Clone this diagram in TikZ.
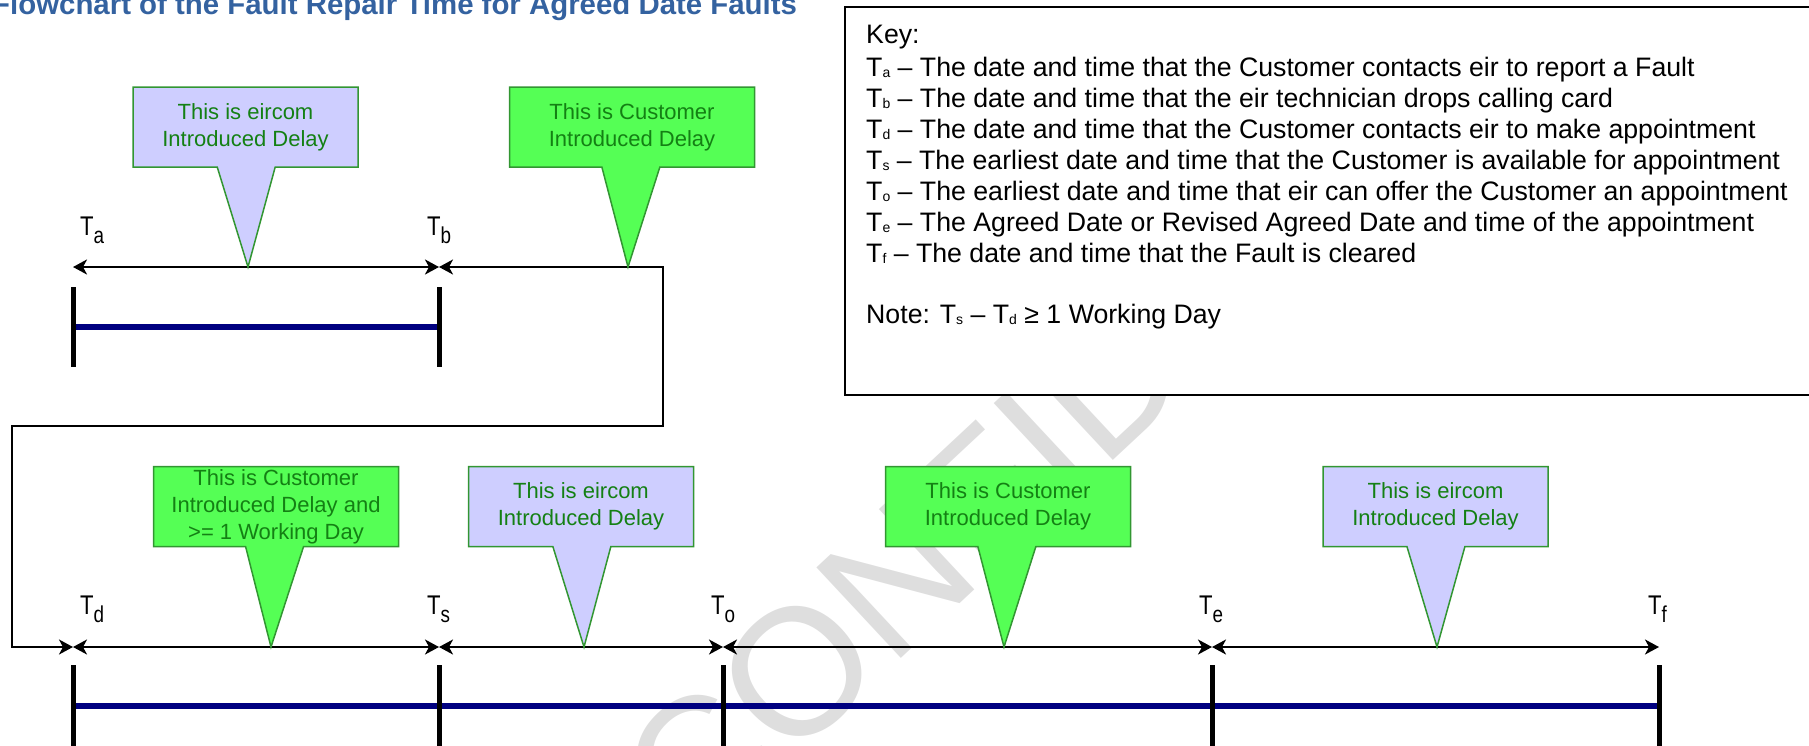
\documentclass[tikz,border=0pt]{standalone}
\usepackage{fontspec}
\setmainfont{Liberation Sans}
\newfontfamily\narrowfont{Liberation Sans}[FakeStretch=0.82]
\usepackage{tikz}
\usetikzlibrary{arrows.meta,shapes.callouts}
\definecolor{titleblue}{RGB}{52,98,160}
\definecolor{custgreen}{RGB}{85,255,85}
\definecolor{eirblue}{RGB}{206,206,255}
\definecolor{textgreen}{RGB}{20,128,20}
\definecolor{edgegreen}{RGB}{50,150,50}
\definecolor{barblue}{RGB}{0,0,128}
\newcommand{\tlab}[1]   {{\narrowfont T\raisebox{-8pt}{\fontsize{23}{23}\selectfont #1}}}
\newcommand{\ksub}[1]   {{\fontsize{14}{14}\selectfont\raisebox{-1pt}{#1}}}

\begin{document}
\begin{tikzpicture}[x=1pt,y=-1pt,
    tick/.style={line width=5pt},
    bar/.style={line width=6pt,barblue},
    span/.style={line width=2pt,
      {Stealth[length=14pt,width=15pt,inset=4pt]}-{Stealth[length=14pt,width=15pt,inset=4pt]}},
    delay/.style={rectangle callout,draw=edgegreen,line width=1.5pt,text=textgreen,
      align=center,inner sep=0pt,minimum height=80pt,callout pointer width=58pt,
      font=\fontsize{22}{27}\selectfont},
    eircom/.style={delay,fill=eirblue,minimum width=225pt},
    customer/.style={delay,fill=custgreen,minimum width=245pt},
    tname/.style={anchor=base west,inner sep=0pt,font=\fontsize{27}{27}\selectfont},
    keyline/.style={anchor=base west,inner sep=0pt,font=\fontsize{26.7}{26.7}\selectfont}]
  \useasboundingbox (0,0) rectangle (1809,745);
  % watermark
  \begin{scope}
    \clip (0,7) rectangle (1809,745);
    \node[rotate=43,anchor=base west,inner sep=0pt,text=black!13,
      font=\fontsize{180}{180}\selectfont] (mark) at (693,853) {CONFIDENTIAL};
  \end{scope}
  % title
  \node[anchor=base west,inner sep=0pt,text=titleblue,
    font=\bfseries\fontsize{29.4}{29.4}\selectfont] (title) at (-8,14)
    {Flowchart of the Fault Repair Time for Agreed Date Faults};
  % key
  \draw[line width=2pt,fill=white] (845,7) rectangle (1820,395);
  \node[keyline] (keyhead) at (866,43) {Key:};
  \foreach \s/\t [count=\i] in {
      a/The date and time that the Customer contacts eir to report a Fault,
      b/The date and time that the eir technician drops calling card,
      d/The date and time that the Customer contacts eir to make appointment,
      s/The earliest date and time that the Customer is available for appointment,
      o/The earliest date and time that eir can offer the Customer an appointment,
      e/The Agreed Date or Revised Agreed Date and time of the appointment,
      f/The date and time that the Fault is cleared}
    \node[keyline] (key\i) at (866,45+31*\i) {T\ksub{\s} – \t};
  \node[keyline] (note) at (866,323) {Note: T\ksub{s} – T\ksub{d} ≥ 1 Working Day};
  % time points
  \coordinate (ta) at (73,267);
  \coordinate (tb) at (439,267);
  \coordinate (td) at (73,647);
  \coordinate (ts) at (439,647);
  \coordinate (to) at (723,647);
  \coordinate (te) at (1212,647);
  \coordinate (tf) at (1659,647);
  \coordinate (loopr) at (663,426);
  \coordinate (loopl) at (12,426);
  % bars and ticks
  \draw[bar] (73,327) -- (439,327);
  \draw[bar] (73,706) -- (1659,706);
  \foreach \x in {73,439}
    \draw[tick] (\x,287) -- (\x,367);
  \foreach \x in {73,439,723,1212,1659}
    \draw[tick] (\x,665) -- (\x,750);
  % spans
  \draw[span,line width=2.6pt] (ta) -- (tb);
  \draw[span] (tb) -| (loopr) -- (loopl) |- (td);
  \draw[span] (td) -- (ts);
  \draw[span] (ts) -- (to);
  \draw[span] (to) -- (te);
  \draw[span] (te) -- (tf);
  % labels
  \node[tname] (la) at (80,235) {\tlab{a}};
  \node[tname] (lb) at (427,235) {\tlab{b}};
  \node[tname] (ld) at (80,614) {\tlab{d}};
  \node[tname] (ls) at (427,614) {\tlab{s}};
  \node[tname] (lo) at (711,614) {\tlab{o}};
  \node[tname] (le) at (1199,614) {\tlab{e}};
  \node[tname] (lf) at (1648,614) {\tlab{f}};
  % delays
  \node[eircom,callout absolute pointer={(ta)+(175,0)}] (d1) at (245.5,127)
    {This is eircom\\Introduced Delay};
  \node[customer,callout absolute pointer={(tb)+(189,0)}] (d2) at (632,127)
    {This is Customer\\Introduced Delay};
  \node[customer,callout absolute pointer={(td)+(198,0)}] (d3) at (276,506.5)
    {This is Customer\\Introduced Delay and\\>= 1 Working Day};
  \node[eircom,callout absolute pointer={(ts)+(145,0)}] (d4) at (581,506.5)
    {This is eircom\\Introduced Delay};
  \node[customer,callout absolute pointer={(to)+(281,0)}] (d5) at (1008,506.5)
    {This is Customer\\Introduced Delay};
  \node[eircom,callout absolute pointer={(te)+(225,0)}] (d6) at (1435.5,506.5)
    {This is eircom\\Introduced Delay};
\end{tikzpicture}
\end{document}
